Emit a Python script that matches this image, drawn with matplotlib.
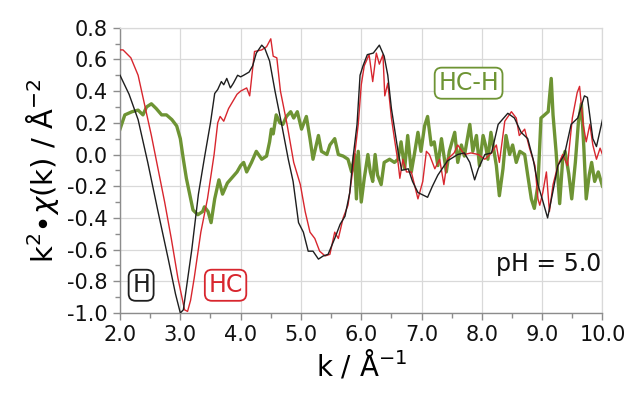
import matplotlib
matplotlib.use("Agg")
import matplotlib.pyplot as plt
from matplotlib.ticker import MultipleLocator, FormatStrFormatter

# ---------------- data ----------------
k_H = [2.0, 2.15, 2.3, 2.46, 2.63, 2.8, 2.92, 3.0, 3.05, 3.19, 3.3, 3.4, 3.5, 3.57, 3.62, 3.68,
       3.72, 3.77, 3.83, 3.88, 3.95, 4.0, 4.05, 4.14, 4.2, 4.26, 4.35, 4.4, 4.48, 4.57, 4.68,
       4.79, 4.87, 4.96, 5.04, 5.12, 5.2, 5.29, 5.37, 5.45, 5.56, 5.65, 5.73, 5.81, 5.87, 5.93,
       5.98, 6.03, 6.1, 6.2, 6.3, 6.38, 6.44, 6.5, 6.61, 6.67, 6.78, 6.85, 6.94, 7.1, 7.18, 7.27,
       7.43, 7.6, 7.71, 7.8, 7.88, 7.94, 8.05, 8.16, 8.27, 8.43, 8.54, 8.65, 8.76, 8.85, 8.93,
       9.0, 9.09, 9.18, 9.26, 9.37, 9.48, 9.59, 9.7, 9.75, 9.84, 9.9, 10.0]
chi_H = [0.50, 0.38, 0.22, -0.05, -0.36, -0.66, -0.88, -1.0, -0.98, -0.60, -0.25, -0.02, 0.2,
         0.385, 0.41, 0.46, 0.44, 0.48, 0.42, 0.45, 0.5, 0.49, 0.5, 0.52, 0.56, 0.64, 0.69, 0.67,
         0.59, 0.40, 0.19, -0.03, -0.17, -0.43, -0.49, -0.61, -0.61, -0.66, -0.64, -0.63, -0.53,
         -0.44, -0.39, -0.24, 0.0, 0.19, 0.5, 0.56, 0.63, 0.64, 0.69, 0.62, 0.5, 0.29, 0.02,
         -0.10, -0.09, -0.17, -0.24, -0.27, -0.20, -0.13, -0.04, 0.0, 0.01, -0.05, -0.16, -0.09,
         0.0, 0.01, 0.19, 0.26, 0.23, 0.14, 0.10, -0.03, -0.19, -0.28, -0.40, -0.23, -0.07, 0.0,
         0.19, 0.23, 0.37, 0.36, 0.10, 0.05, 0.22]

k_HC = [2.0, 2.05, 2.18, 2.3, 2.41, 2.52, 2.63, 2.74, 2.85, 2.96, 3.07, 3.12, 3.17, 3.23, 3.34,
        3.45, 3.56, 3.62, 3.66, 3.72, 3.8, 3.94, 4.0, 4.1, 4.15, 4.23, 4.35, 4.43, 4.5, 4.54,
        4.6, 4.66, 4.77, 4.88, 4.99, 5.07, 5.15, 5.23, 5.31, 5.4, 5.48, 5.56, 5.62, 5.7, 5.78,
        5.87, 5.95, 6.0, 6.05, 6.13, 6.19, 6.25, 6.3, 6.36, 6.39, 6.44, 6.5, 6.55, 6.61, 6.64,
        6.69, 6.75, 6.83, 6.94, 7.02, 7.08, 7.13, 7.22, 7.3, 7.37, 7.43, 7.54, 7.6, 7.71, 7.82,
        7.94, 8.05, 8.16, 8.24, 8.29, 8.38, 8.49, 8.57, 8.62, 8.71, 8.79, 8.88, 8.93, 8.96, 9.01,
        9.07, 9.12, 9.18, 9.26, 9.34, 9.42, 9.5, 9.58, 9.62, 9.68, 9.73, 9.79, 9.84, 9.9, 9.96,
        10.0]
chi_HC = [0.66, 0.66, 0.61, 0.5, 0.31, 0.12, -0.09, -0.30, -0.53, -0.78, -0.98, -0.99, -0.92,
          -0.78, -0.49, -0.28, 0.0, 0.2, 0.24, 0.21, 0.29, 0.38, 0.40, 0.42, 0.37, 0.65, 0.66,
          0.68, 0.73, 0.62, 0.61, 0.40, 0.19, -0.05, -0.19, -0.36, -0.49, -0.53, -0.61, -0.64,
          -0.63, -0.49, -0.53, -0.40, -0.32, -0.07, 0.19, 0.44, 0.56, 0.63, 0.46, 0.64, 0.57,
          0.63, 0.37, 0.45, 0.23, 0.10, -0.05, -0.15, -0.03, -0.11, -0.11, -0.28, -0.17, 0.02,
          0.0, -0.09, -0.03, -0.19, -0.03, 0.01, 0.06, 0.0, 0.01, 0.0, -0.03, 0.01, 0.06, -0.05,
          0.21, 0.27, 0.23, 0.12, 0.16, 0.04, -0.07, -0.28, -0.32, -0.24, -0.11, -0.36, -0.19,
          -0.07, 0.0, -0.07, 0.23, 0.39, 0.43, 0.19, 0.08, 0.19, 0.06, -0.03, 0.04, 0.0]

k_D = [2.0, 2.08, 2.2, 2.3, 2.38, 2.44, 2.52, 2.6, 2.69, 2.77, 2.86, 2.94, 3.0, 3.05, 3.1, 3.16,
       3.21, 3.29, 3.37, 3.4, 3.46, 3.51, 3.57, 3.64, 3.7, 3.78, 3.94, 4.0, 4.05, 4.1, 4.18,
       4.26, 4.35, 4.43, 4.48, 4.51, 4.54, 4.59, 4.65, 4.7, 4.76, 4.83, 4.88, 4.94, 5.01, 5.09,
       5.15, 5.2, 5.29, 5.34, 5.43, 5.48, 5.56, 5.62, 5.7, 5.78, 5.84, 5.89, 5.92, 5.95, 6.0,
       6.05, 6.11, 6.15, 6.19, 6.23, 6.27, 6.33, 6.38, 6.47, 6.55, 6.61, 6.66, 6.72, 6.77, 6.83,
       6.88, 6.94, 6.99, 7.05, 7.1, 7.16, 7.21, 7.27, 7.33, 7.41, 7.46, 7.55, 7.6, 7.66, 7.71,
       7.8, 7.85, 7.91, 7.96, 8.02, 8.06, 8.1, 8.15, 8.24, 8.29, 8.35, 8.4, 8.46, 8.51, 8.57,
       8.63, 8.71, 8.76, 8.82, 8.87, 8.93, 8.98, 9.04, 9.1, 9.15, 9.18, 9.23, 9.29, 9.34, 9.38,
       9.44, 9.49, 9.55, 9.6, 9.65, 9.69, 9.73, 9.78, 9.82, 9.87, 9.93, 10.0]
chi_D = [0.16, 0.25, 0.27, 0.28, 0.25, 0.30, 0.32, 0.29, 0.25, 0.25, 0.22, 0.18, 0.10, -0.03,
         -0.15, -0.26, -0.35, -0.38, -0.36, -0.33, -0.36, -0.43, -0.28, -0.16, -0.25, -0.18,
         -0.11, -0.07, -0.05, -0.11, -0.05, 0.02, -0.03, -0.01, 0.08, 0.16, 0.13, 0.25, 0.20,
         0.19, 0.24, 0.27, 0.23, 0.27, 0.16, 0.24, 0.10, -0.03, 0.12, 0.02, 0.0, 0.06, 0.10, 0.0,
         -0.01, -0.03, -0.11, 0.0, -0.28, 0.02, -0.30, -0.15, 0.0, -0.11, -0.17, 0.0, -0.13,
         -0.19, -0.05, -0.03, -0.05, -0.03, 0.08, -0.09, 0.12, -0.11, 0.0, 0.14, 0.02, 0.18, 0.24,
         0.06, 0.08, -0.07, 0.10, -0.11, 0.02, 0.14, -0.05, 0.06, -0.01, 0.19, 0.02, 0.12, -0.07,
         0.12, 0.06, -0.03, 0.14, -0.07, -0.26, -0.09, 0.12, 0.0, 0.06, -0.05, 0.02, 0.0, -0.13,
         -0.28, -0.34, -0.19, 0.23, 0.25, 0.27, 0.48, 0.25, 0.02, -0.31, -0.03, 0.02, -0.12,
         -0.28, -0.05, 0.20, 0.32, 0.05, -0.28, -0.13, -0.05, -0.17, -0.11, -0.20]

x_ticks = [2.0, 3.0, 4.0, 5.0, 6.0, 7.0, 8.0, 9.0, 10.0]
y_ticks = [-1.0, -0.8, -0.6, -0.4, -0.2, 0.0, 0.2, 0.4, 0.6, 0.8]

# ---------------- style ----------------
C_H = "#1e1e1e"
C_HC = "#d8262e"
C_D = "#6e9434"
GRID = "#d9d9d9"
AXC = "#8c8c8c"

plt.rcParams['font.family'] = ['DejaVu Sans']
plt.rcParams['mathtext.fontset'] = 'dejavusans'

fig = plt.figure(figsize=(6.33, 3.97), dpi=100)
ax = fig.add_axes([0.1896, 0.2116, 0.7622, 0.7186])

ax.plot(k_D, chi_D, color=C_D, lw=2.4, solid_joinstyle='round', zorder=2)
ax.plot(k_HC, chi_HC, color=C_HC, lw=1.0, zorder=3)
ax.plot(k_H, chi_H, color=C_H, lw=1.0, zorder=4)

ax.set_xlim(2.0, 10.0)
ax.set_ylim(-1.0, 0.8)
ax.set_xticks(x_ticks)
ax.set_yticks(y_ticks)
ax.xaxis.set_minor_locator(MultipleLocator(0.5))
ax.yaxis.set_minor_locator(MultipleLocator(0.1))
ax.xaxis.set_major_formatter(FormatStrFormatter('%.1f'))
ax.yaxis.set_major_formatter(FormatStrFormatter('%.1f'))
ax.grid(True, which='major', color=GRID, lw=0.9, zorder=0)
ax.set_axisbelow(True)

for s in ['top', 'right']:
    ax.spines[s].set_color(GRID)
    ax.spines[s].set_linewidth(0.9)
for s in ['left', 'bottom']:
    ax.spines[s].set_color(AXC)
    ax.spines[s].set_linewidth(1.0)

ax.tick_params(which='both', direction='out', color=AXC, labelsize=15, labelcolor='#111111')
ax.tick_params(which='major', length=5, width=1.0, pad=4)
ax.tick_params(which='minor', length=3.5, width=1.0)

ax.set_xlabel(r'k / Å$^{-1}$', fontsize=20, labelpad=2)
ax.set_ylabel(r'k$^2$$\bullet$$\chi$(k) / Å$^{-2}$', fontsize=21, labelpad=4)

bbox = dict(boxstyle='round,pad=0.15,rounding_size=0.3', fc='white', lw=1.3)
ax.text(2.35, -0.825, 'H', color=C_H, fontsize=17, ha='center', va='center',
        bbox=dict(bbox, ec=C_H), zorder=6)
ax.text(3.75, -0.825, 'HC', color=C_HC, fontsize=17, ha='center', va='center',
        bbox=dict(bbox, ec=C_HC), zorder=6)
ax.text(7.78, 0.45, 'HC-H', color=C_D, fontsize=17, ha='center', va='center',
        bbox=dict(bbox, ec=C_D), zorder=6)
ax.text(9.1, -0.69, 'pH = 5.0', color='#111111', fontsize=17, ha='center', va='center',
        zorder=6)

fig.savefig('out.png', dpi=100)
